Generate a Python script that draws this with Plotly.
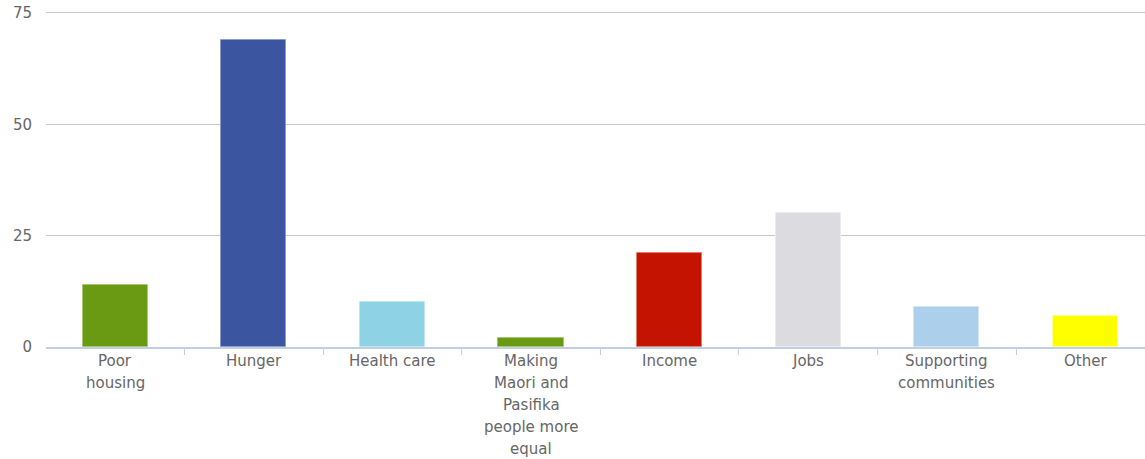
import plotly.graph_objects as go

categories = ["Poor housing", "Hunger", "Health care",
              "Making Maori and Pasifika people more equal",
              "Income", "Jobs", "Supporting communities", "Other"]
label_lines = [["Poor", "housing"], ["Hunger"], ["Health care"],
               ["Making", "Maori and", "Pasifika", "people more", "equal"],
               ["Income"], ["Jobs"], ["Supporting", "communities"], ["Other"]]
values = [14, 69, 10, 2, 21, 30, 9, 7]
colors = ["#6a9a14", "#3c55a0", "#8ed2e6", "#6a9a14",
          "#c41400", "#dcdce0", "#acd0ec", "#ffff00"]
border_colors = ["#a6c870", "#8c9cd0", "#c0e6f2", "#a6c870",
                 "#e08070", "#ececf0", "#d2e6f6", "#ffff90"]
ytick_vals = [0, 25, 50, 75]

x_idx = list(range(len(categories)))

fig = go.Figure(go.Bar(
    x=x_idx, y=values, width=0.47,
    marker=dict(color=colors, line=dict(color=border_colors, width=1)),
    hoverinfo="skip",
))

font_family = "DejaVu Sans, Verdana, sans-serif"
text_color = "#666666"
annotations = []
for i, lines in enumerate(label_lines):
    for j, line in enumerate(lines):
        annotations.append(dict(
            x=i, y=0, xref="x", yref="y", text=line, showarrow=False,
            yanchor="top", xanchor="center", yshift=-3 - 22 * j,
            font=dict(family=font_family, size=15, color=text_color),
        ))

fig.update_layout(
    width=1145, height=459,
    margin=dict(l=46, r=0, t=8, b=112),
    paper_bgcolor="white", plot_bgcolor="white",
    showlegend=False, bargap=0,
    annotations=annotations,
    font=dict(family=font_family, size=15, color=text_color),
)
fig.update_xaxes(
    type="linear", range=[-0.5, 7.43],
    tickvals=[k + 0.5 for k in x_idx[:-1]], ticktext=[""] * (len(x_idx) - 1),
    ticks="outside", ticklen=6, tickcolor="#c0d0e0", tickwidth=1,
    showgrid=False, zeroline=False,
    showline=True, linecolor="#c0d0e0", linewidth=2,
)
fig.update_yaxes(
    range=[0, 76.1], tickvals=ytick_vals, ticktext=[str(v) for v in ytick_vals],
    showgrid=True, gridcolor="#c8c8c8", gridwidth=1,
    zeroline=False, showline=False, ticks="",
    ticklabelstandoff=13,
    tickfont=dict(family=font_family, size=15, color=text_color),
)

fig.write_html("out.html")
